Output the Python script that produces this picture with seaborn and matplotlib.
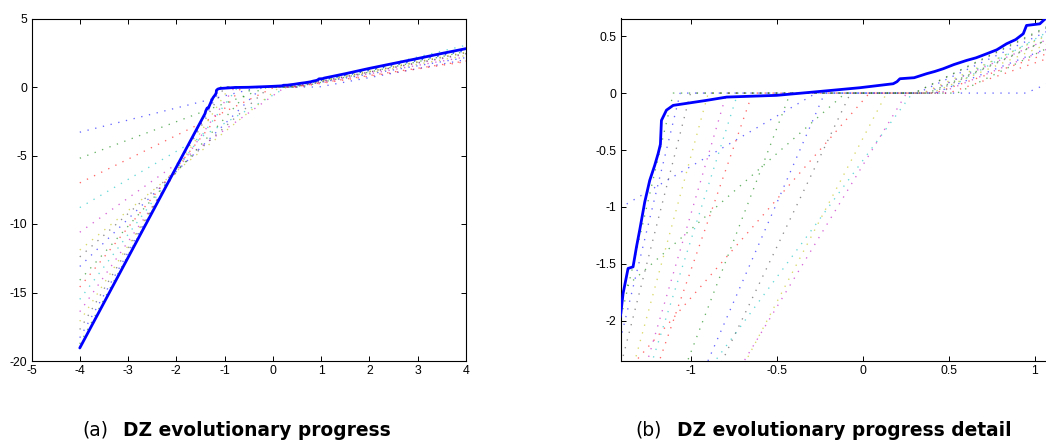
import matplotlib
matplotlib.use("Agg")
import matplotlib.pyplot as plt
import seaborn as sns
import numpy as np
import pandas as pd

sns.set_theme(style="white")
plt.rcParams['font.family'] = ['Liberation Sans', 'DejaVu Sans']

# ---- data -------------------------------------------------------------
# final (target) curve, solid blue
target_x = [-4.0, -3.5, -3.0, -2.5, -2.0, -1.405, -1.392, -1.363, -1.334, -1.314,
            -1.295, -1.266, -1.237, -1.208, -1.188, -1.175, -1.169, -1.14, -1.101,
            -0.907, -0.79, -0.5, -0.287, -0.016, 0.178, 0.2, 0.217, 0.3, 0.372,
            0.42, 0.469, 0.53, 0.605, 0.66, 0.721, 0.78, 0.837, 0.89, 0.934,
            0.953, 1.03, 1.06, 1.5, 2.0, 2.5, 3.0, 3.5, 4.0]
target_y = [-19.05, -15.75, -12.45, -9.15, -5.85, -1.935, -1.76, -1.54, -1.526, -1.35,
            -1.20, -0.956, -0.766, -0.634, -0.53, -0.45, -0.24, -0.15, -0.108,
            -0.064, -0.035, -0.02, 0.009, 0.047, 0.082, 0.1, 0.126, 0.135, 0.17,
            0.19, 0.214, 0.25, 0.287, 0.31, 0.345, 0.38, 0.433, 0.47, 0.521,
            0.594, 0.608, 0.65, 0.97, 1.36, 1.72, 2.08, 2.45, 2.8]

# evolving dead-zone models (one per generation, dotted)
gen_y_left = [-3.3, -5.2, -7.0, -8.8, -10.6, -11.9, -12.4, -13.1, -14.1, -14.6,
              -15.5, -16.4, -17.1, -17.7, -18.3, -18.75]          # value at x=-4
gen_zero_left = [-0.27, -0.1, 0.04, 0.29, 0.256, 0.14, -0.07, -0.22, -0.42, -0.64,
                 -0.725, -0.79, -0.897, -1.0, -1.06, -1.1]         # left dead-zone edge
gen_zero_right = [0.95, 0.55, 0.5, 0.45, 0.45, 0.4, 0.4, 0.42, 0.38, 0.42,
                  0.38, 0.36, 0.35, 0.3, 0.32, 0.3]                # right dead-zone edge
gen_y_right = [2.0, 2.6, 1.85, 3.05, 2.2, 2.3, 2.5, 2.15, 2.45, 1.9,
               2.7, 2.4, 2.55, 2.75, 2.65, 2.8]                    # value at x=4

# axis tick labels
a_xticks = [-5, -4, -3, -2, -1, 0, 1, 2, 3, 4]
a_xticklabels = ["-5", "-4", "-3", "-2", "-1", "0", "1", "2", "3", "4"]
a_yticks = [-20, -15, -10, -5, 0, 5]
a_yticklabels = ["-20", "-15", "-10", "-5", "0", "5"]
b_xticks = [-1, -0.5, 0, 0.5, 1]
b_xticklabels = ["-1", "-0.5", "0", "0.5", "1"]
b_yticks = [-2, -1.5, -1, -0.5, 0, 0.5]
b_yticklabels = ["-2", "-1.5", "-1", "-0.5", "0", "0.5"]

captions = [("(a)", "DZ evolutionary progress"),
            ("(b)", "DZ evolutionary progress detail")]

# ---- style ------------------------------------------------------------
matlab_cycle = [(0, 0, 1), (0, 0.5, 0), (1, 0, 0), (0, 0.75, 0.75),
                (0.75, 0, 0.75), (0.75, 0.75, 0), (0.25, 0.25, 0.25)]

W, H = 1046, 447
fig = plt.figure(figsize=(W / 100, H / 100), dpi=100)

def px_axes(x0, x1, y0, y1):
    return fig.add_axes([x0 / W, 1 - y1 / H, (x1 - x0) / W, (y1 - y0) / H])

axA = px_axes(31.5, 466, 18.5, 361)
axB = px_axes(620.5, 1047, 18.5, 361)

rows = []
for i in range(len(gen_y_left)):
    xs = [-4, gen_zero_left[i], gen_zero_right[i], 4]
    ys = [gen_y_left[i], 0, 0, gen_y_right[i]]
    for x, y in zip(xs, ys):
        rows.append({"gen": i, "x": x, "y": y})
gen_df = pd.DataFrame(rows)
target_df = pd.DataFrame({"x": target_x, "y": target_y})

for ax in (axA, axB):
    for i, g in gen_df.groupby("gen"):
        sns.lineplot(data=g, x="x", y="y", ax=ax, sort=False, estimator=None,
                     color=matlab_cycle[i % 7], linestyle=(0, (1, 5)),
                     linewidth=0.95, alpha=0.6, legend=False)
    sns.lineplot(data=target_df, x="x", y="y", ax=ax, sort=False, estimator=None,
                 color=(0, 0, 1), linewidth=2.0, legend=False, zorder=5)
    ax.set_xlabel("")
    ax.set_ylabel("")
    ax.set_facecolor("white")
    for s in ax.spines.values():
        s.set_color("black")
        s.set_linewidth(0.8)
    ax.tick_params(direction="in", length=3.5, width=0.7, colors="black",
                   labelcolor="black", labelsize=8.8, top=True, right=True,
                   bottom=True, left=True, pad=3)
    ax.grid(False)

axA.set_xlim(-5, 4)
axA.set_ylim(-20, 5)
axA.set_xticks(a_xticks)
axA.set_xticklabels(a_xticklabels)
axA.set_yticks(a_yticks)
axA.set_yticklabels(a_yticklabels)

axB.set_xlim(-1.407, 1.072)
axB.set_ylim(-2.353, 0.655)
axB.set_xticks(b_xticks)
axB.set_xticklabels(b_xticklabels)
axB.set_yticks(b_yticks)
axB.set_yticklabels(b_yticklabels)
axB.spines["right"].set_visible(False)
axB.tick_params(right=False)

# captions
cap_font = ['DejaVu Sans']
cap_kw = dict(fontsize=13.4, family=cap_font, color="black", ha="left", va="baseline")
fig.text(82 / W, 1 - 436 / H, captions[0][0], **cap_kw)
fig.text(123 / W, 1 - 436 / H, captions[0][1], weight="bold", **cap_kw)
fig.text(635 / W, 1 - 436 / H, captions[1][0], **cap_kw)
fig.text(677 / W, 1 - 436 / H, captions[1][1], weight="bold", **cap_kw)

fig.savefig("out.png", dpi=100, facecolor="white")
